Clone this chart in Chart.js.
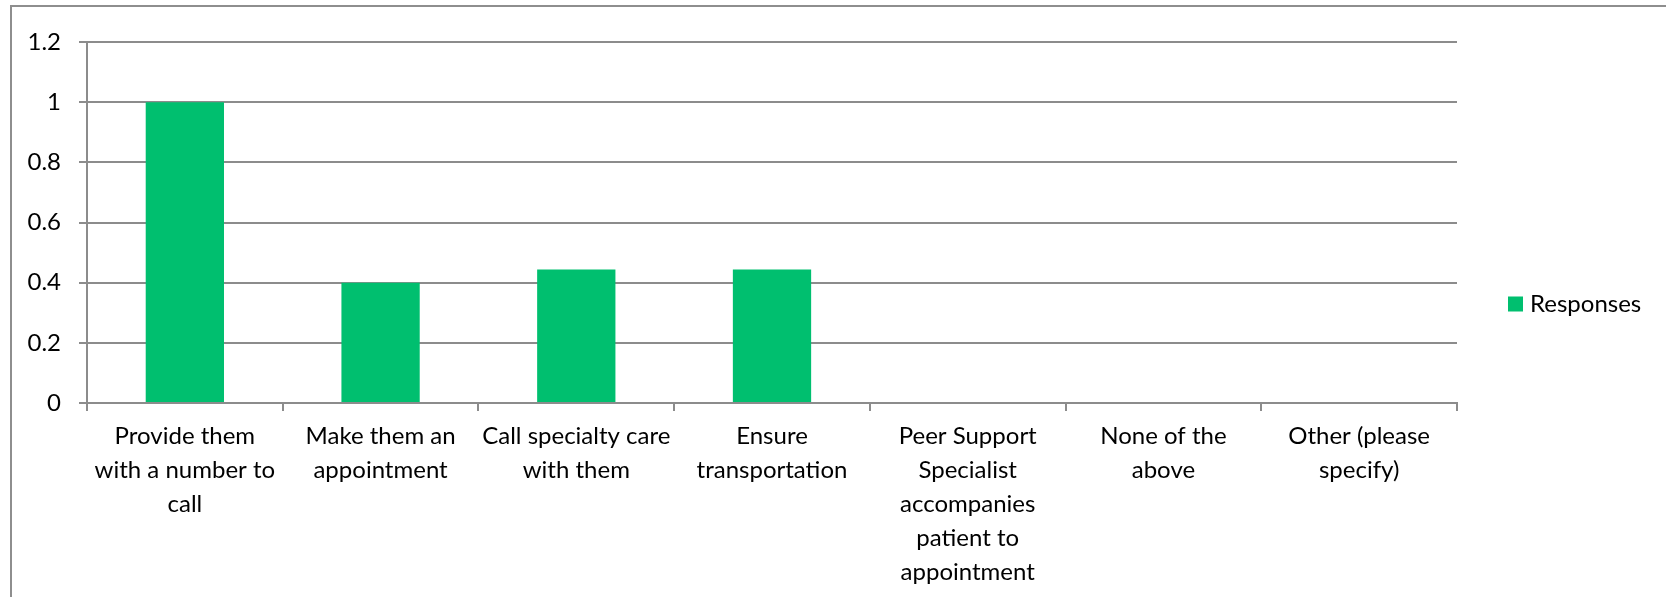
<!DOCTYPE html>
<html>
<head>
<meta charset="utf-8">
<title>Responses</title>
<script src="https://cdn.jsdelivr.net/npm/chart.js@4"></script>
<style>
  html, body { margin: 0; padding: 0; background: #fff; overflow: hidden; }
  #wrap { position: relative; width: 1666px; height: 597px; }
  /* chart frame: only its top and left edges fall inside the page */
  #frame { position: absolute; left: 10px; top: 5px; right: -20px; bottom: -20px;
           border-left: 2px solid #8e8e8e; border-top: 2px solid #8e8e8e; }
  canvas { position: absolute; left: 0; top: 0; }
</style>
</head>
<body>
<div id="wrap">
  <div id="frame"></div>
  <canvas id="responsesChart" width="1666" height="597"></canvas>
</div>
<script>
// Categorías (etiquetas en varias líneas)
const categories = [
    ['Provide them', 'with a number to', 'call'],
    ['Make them an', 'appointment'],
    ['Call specialty care', 'with them'],
    ['Ensure', 'transportation'],
    ['Peer Support', 'Specialist', 'accompanies', 'patient to', 'appointment'],
    ['None of the', 'above'],
    ['Other (please', 'specify)']
];
const responses = [1, 0.4, 0.444, 0.444, 0, 0, 0];
const yTicks = [0, 0.2, 0.4, 0.6, 0.8, 1, 1.2];

const gridColor = '#8c8c8c';
const fontFamily = 'Lato, "Open Sans", sans-serif';
const baseFont = { family: fontFamily, size: 24 };

// Leyenda a la derecha: cuadro de color + nombre de la serie
const sideLegend = {
    id: 'sideLegend',
    afterDraw(chart) {
        const c = chart.ctx;
        const area = chart.chartArea;
        const x = area.right + 51;
        const y = chart.height / 2 + 6;
        chart.data.datasets.forEach((ds, i) => {
            const yy = y + i * 34;
            c.save();
            c.fillStyle = ds.backgroundColor;
            c.fillRect(x, yy - 8, 15, 15);
            c.fillStyle = '#000';
            c.font = `${baseFont.size}px ${fontFamily}`;
            c.textBaseline = 'middle';
            c.textAlign = 'left';
            c.fillText(ds.label, x + 22, yy);
            c.restore();
        });
    }
};

const ctx = document.getElementById('responsesChart').getContext('2d');
const responsesChart = new Chart(ctx, {
    type: 'bar',
    data: {
        labels: categories,
        datasets: [{
            label: 'Responses',
            data: responses,
            backgroundColor: '#00bf6f',
            borderWidth: 0,
            barPercentage: 0.4,
            categoryPercentage: 1.0
        }]
    },
    options: {
        responsive: false,
        animation: false,
        layout: {
            padding: { top: 42, right: 209, bottom: 0, left: 0 }
        },
        scales: {
            x: {
                offset: true,
                grid: {
                    offset: true,
                    drawOnChartArea: false,
                    drawTicks: true,
                    tickLength: 8,
                    color: gridColor,
                    lineWidth: 2
                },
                border: { color: gridColor, width: 2 },
                ticks: {
                    color: '#000',
                    font: { ...baseFont, lineHeight: 1.417 },
                    padding: 8,
                    maxRotation: 0,
                    autoSkip: false
                },
                afterFit: (scale) => { scale.height = 194; }
            },
            y: {
                min: 0,
                max: 1.2,
                afterBuildTicks: (scale) => {
                    scale.ticks = yTicks.map(v => ({ value: v }));
                },
                grid: {
                    color: gridColor,
                    lineWidth: 2,
                    tickLength: 8
                },
                border: { color: gridColor, width: 2 },
                ticks: {
                    color: '#000',
                    font: baseFont,
                    padding: 18,
                    callback: (value) => String(value)
                },
                afterFit: (scale) => { scale.width = 87; }
            }
        },
        plugins: {
            legend: { display: false },
            tooltip: { enabled: false }
        }
    },
    plugins: [sideLegend]
});
</script>
</body>
</html>
